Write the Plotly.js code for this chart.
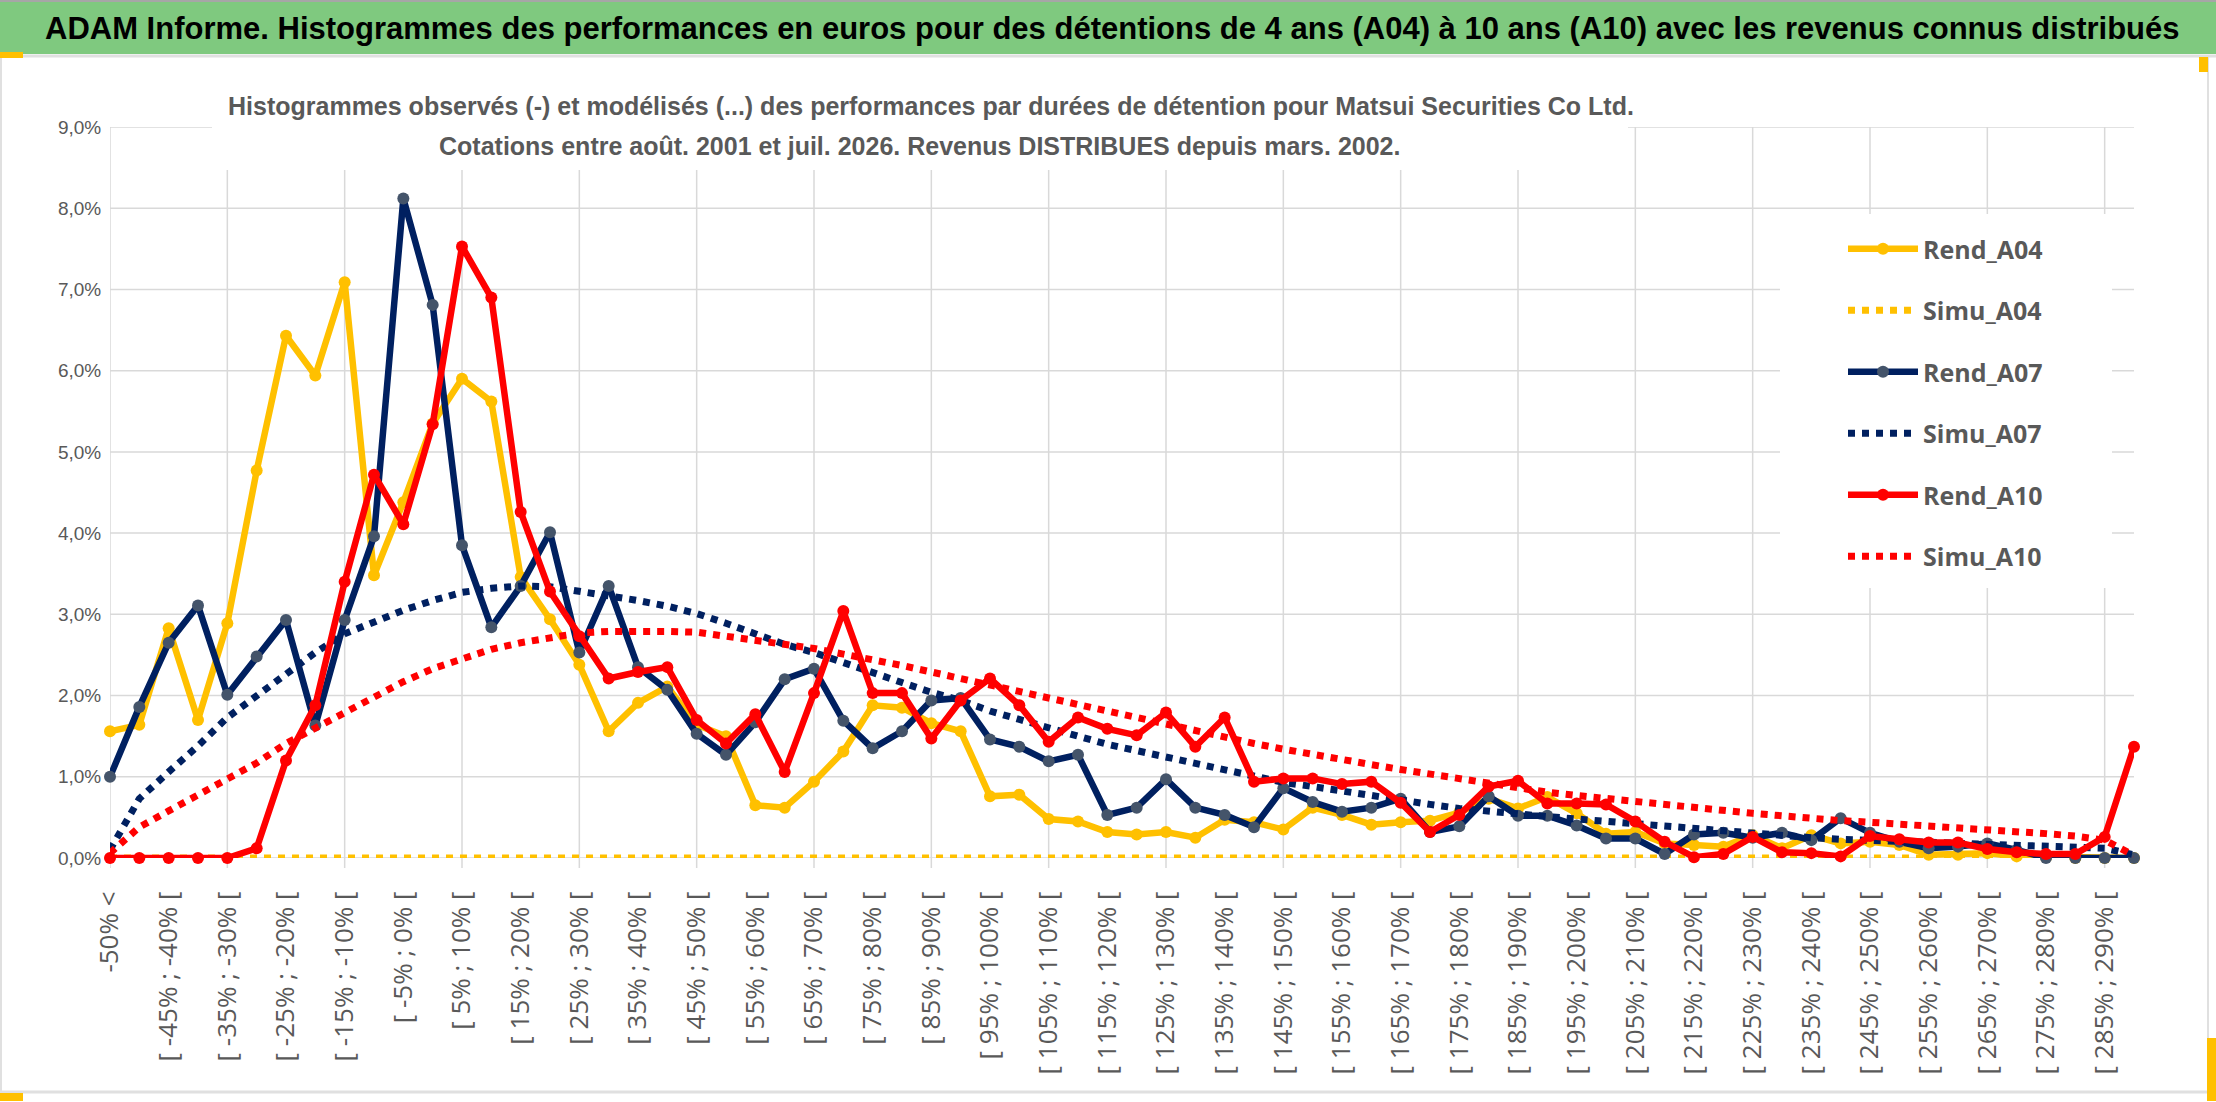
<!DOCTYPE html>
<html><head><meta charset="utf-8">
<script src="https://cdn.plot.ly/plotly-3.0.1.min.js"></script>
<style>html,body{margin:0;padding:0;background:#fff;overflow:hidden}#chart{width:2216px;height:1102px;}</style>
</head><body><div id="chart"></div>
<script>
const categories = [
"-50% <","[ -50% ; -45% [","[ -45% ; -40% [","[ -40% ; -35% [","[ -35% ; -30% [","[ -30% ; -25% [","[ -25% ; -20% [","[ -20% ; -15% [","[ -15% ; -10% [","[ -10% ; -5% [",
"[ -5% ; 0% [","[ 0% ; 5% [","[ 5% ; 10% [","[ 10% ; 15% [","[ 15% ; 20% [","[ 20% ; 25% [","[ 25% ; 30% [","[ 30% ; 35% [","[ 35% ; 40% [","[ 40% ; 45% [",
"[ 45% ; 50% [","[ 50% ; 55% [","[ 55% ; 60% [","[ 60% ; 65% [","[ 65% ; 70% [","[ 70% ; 75% [","[ 75% ; 80% [","[ 80% ; 85% [","[ 85% ; 90% [","[ 90% ; 95% [",
"[ 95% ; 100% [","[ 100% ; 105% [","[ 105% ; 110% [","[ 110% ; 115% [","[ 115% ; 120% [","[ 120% ; 125% [","[ 125% ; 130% [","[ 130% ; 135% [","[ 135% ; 140% [","[ 140% ; 145% [",
"[ 145% ; 150% [","[ 150% ; 155% [","[ 155% ; 160% [","[ 160% ; 165% [","[ 165% ; 170% [","[ 170% ; 175% [","[ 175% ; 180% [","[ 180% ; 185% [","[ 185% ; 190% [","[ 190% ; 195% [",
"[ 195% ; 200% [","[ 200% ; 205% [","[ 205% ; 210% [","[ 210% ; 215% [","[ 215% ; 220% [","[ 220% ; 225% [","[ 225% ; 230% [","[ 230% ; 235% [","[ 235% ; 240% [","[ 240% ; 245% [",
"[ 245% ; 250% [","[ 250% ; 255% [","[ 255% ; 260% [","[ 260% ; 265% [","[ 265% ; 270% [","[ 270% ; 275% [","[ 275% ; 280% [","[ 280% ; 285% [","[ 285% ; 290% [","> 290%"
];
// values in %
const rendA04 = [1.56,1.64,2.83,1.70,2.89,4.77,6.43,5.94,7.09,3.48,
4.38,5.35,5.90,5.62,3.46,2.94,2.38,1.56,1.91,2.11,
1.64,1.50,0.65,0.62,0.94,1.31,1.88,1.85,1.66,1.56,
0.76,0.78,0.48,0.45,0.32,0.29,0.32,0.25,0.47,0.44,
0.35,0.62,0.53,0.41,0.44,0.46,0.56,0.73,0.61,0.75,
0.55,0.30,0.32,0.18,0.16,0.14,0.28,0.12,0.28,0.18,
0.20,0.16,0.04,0.04,0.06,0.02,0.01,0,0,0];
const simuA04 = [0,0,0,0,0,0,0,0,0,0, 0,0,0,0,0,0,0,0,0,0, 0,0,0,0,0,0,0,0,0,0, 0,0,0,0,0,0,0,0,0,0,
0,0,0,0,0,0,0,0,0,0, 0,0,0,0,0,0,0,0,0,0, 0,0,0,0,0,0,0,0,0,0];
const rendA07 = [1.00,1.86,2.65,3.11,2.01,2.48,2.93,1.63,2.93,3.96,
8.12,6.81,3.85,2.84,3.35,4.01,2.53,3.35,2.35,2.07,
1.53,1.27,1.67,2.20,2.33,1.69,1.35,1.56,1.94,1.97,
1.46,1.37,1.19,1.27,0.53,0.62,0.97,0.62,0.53,0.38,
0.86,0.69,0.57,0.62,0.73,0.32,0.39,0.76,0.52,0.52,
0.40,0.24,0.24,0.05,0.29,0.31,0.25,0.31,0.22,0.49,
0.31,0.20,0.12,0.14,0.18,0.10,0,0,0,0];
const simuA07 = [0.10,0.73,1.06,1.38,1.73,2.00,2.26,2.53,2.76,2.91,
3.05,3.17,3.27,3.32,3.35,3.34,3.29,3.24,3.17,3.10,
3.01,2.89,2.76,2.63,2.53,2.40,2.28,2.16,2.04,1.94,
1.81,1.70,1.60,1.50,1.40,1.32,1.23,1.16,1.09,1.00,
0.93,0.88,0.82,0.77,0.71,0.66,0.61,0.57,0.54,0.51,
0.48,0.45,0.42,0.38,0.35,0.32,0.30,0.27,0.25,0.23,
0.22,0.21,0.20,0.19,0.18,0.17,0.16,0.15,0.12,0.04];
const rendA10 = [0,0,0,0,0,0.12,1.20,1.88,3.40,4.72,
4.11,5.34,7.53,6.90,4.26,3.28,2.73,2.21,2.29,2.35,
1.70,1.41,1.77,1.06,2.03,3.04,2.03,2.03,1.47,1.94,
2.21,1.88,1.43,1.73,1.59,1.51,1.79,1.37,1.73,0.94,
0.98,0.98,0.91,0.94,0.68,0.32,0.53,0.88,0.95,0.67,
0.67,0.66,0.45,0.20,0.01,0.05,0.26,0.07,0.06,0.02,
0.27,0.23,0.19,0.19,0.11,0.07,0.05,0.05,0.26,1.37];
const simuA10 = [0.06,0.38,0.58,0.78,0.98,1.17,1.41,1.60,1.79,2.00,
2.17,2.33,2.45,2.57,2.65,2.72,2.77,2.79,2.80,2.79,
2.78,2.73,2.70,2.65,2.58,2.51,2.45,2.37,2.29,2.21,
2.13,2.04,1.96,1.88,1.79,1.72,1.63,1.55,1.47,1.41,
1.34,1.27,1.22,1.15,1.09,1.03,0.98,0.93,0.85,0.81,
0.77,0.73,0.70,0.66,0.61,0.58,0.55,0.52,0.48,0.46,
0.44,0.42,0.39,0.36,0.34,0.32,0.30,0.27,0.22,0.03];
const yTickVals = [0,1,2,3,4,5,6,7,8,9];
const yTickLabels = ["0,0%","1,0%","2,0%","3,0%","4,0%","5,0%","6,0%","7,0%","8,0%","9,0%"];
const xTickLabels = categories.filter((c,i)=>i%2===0);
const xGridCats = categories.filter((c,i)=>i%4===0);
const seriesNames = ["Rend_A04","Simu_A04","Rend_A07","Simu_A07","Rend_A10","Simu_A10"];
const mainTitle = "ADAM Informe. Histogrammes des performances en euros pour des détentions de 4 ans (A04) à 10 ans (A10) avec les revenus connus distribués";
const subTitle1 = "Histogrammes observés (-) et modélisés (...) des performances par durées de détention pour Matsui Securities Co Ltd.";
const subTitle2 = "Cotations entre août. 2001 et juil. 2026. Revenus DISTRIBUES depuis mars. 2002.";

const W=2216, H=1102;
const M={l:110, r:82, t:127, b:244};
const PW=W-M.l-M.r, PH=H-M.t-M.b;
const px = x => (x-M.l)/PW;
const py = y => (H-M.b-y)/PH;

const YEL='#FFC000', NAVY='#002060', SLATE='#44546A', RED='#FF0000', GRID='#D9D9D9', TXT='#595959';

function rend(name, y, color, mcolor){
  return {type:'scatter', mode:'lines+markers', name:name, x:categories, y:y,
    line:{color:color, width:6.5}, marker:{color:mcolor, size:12, line:{width:0}},
    cliponaxis:false, legendgroup:name, hoverinfo:'skip'};
}
function simu(name, y, color){
  return {type:'scatter', mode:'lines', name:name, x:categories, y:y,
    line:{color:color, width:7, dash:'7px,7px'},
    cliponaxis:false, legendgroup:name, hoverinfo:'skip'};
}
const data = [
  rend(seriesNames[0], rendA04, YEL, YEL),
  simu(seriesNames[1], simuA04, YEL),
  rend(seriesNames[2], rendA07, NAVY, SLATE),
  simu(seriesNames[3], simuA07, NAVY),
  rend(seriesNames[4], rendA10, RED, RED),
  simu(seriesNames[5], simuA10, RED)
];

const shapes = [];
// horizontal gridlines
yTickVals.forEach(v=>shapes.push({type:'line', xref:'paper', yref:'y', x0:0, x1:1, y0:v, y1:v, line:{color:GRID, width:1.5}, layer:'below'}));
// vertical gridlines every 4 categories
xGridCats.forEach(c=>shapes.push({type:'line', xref:'x', yref:'paper', x0:c, x1:c, y0:py(868), y1:1, line:{color:GRID, width:1.5}, layer:'below'}));
// white boxes behind title and legend
shapes.push({type:'rect', xref:'paper', yref:'paper', x0:px(212), x1:px(1628), y0:py(170), y1:py(118), fillcolor:'#FFFFFF', line:{width:0}, layer:'below'});
shapes.push({type:'rect', xref:'paper', yref:'paper', x0:px(1780), x1:px(2112), y0:py(588), y1:py(214), fillcolor:'#FFFFFF', line:{width:0}, layer:'below'});
// green header band
shapes.push({type:'rect', xref:'paper', yref:'paper', x0:px(0), x1:px(2216), y0:py(54), y1:py(2), fillcolor:'#7FC97F', line:{width:0}, layer:'below'});
// frame lines
shapes.push({type:'line', xref:'paper', yref:'paper', x0:px(0), x1:px(2216), y0:py(1), y1:py(1), line:{color:'#A6A6A6', width:2}, layer:'below'});
shapes.push({type:'line', xref:'paper', yref:'paper', x0:px(0), x1:px(2216), y0:py(56), y1:py(56), line:{color:'#E0E0E0', width:3}, layer:'below'});
shapes.push({type:'line', xref:'paper', yref:'paper', x0:px(0), x1:px(2216), y0:py(1092), y1:py(1092), line:{color:'#E0E0E0', width:3}, layer:'below'});
shapes.push({type:'line', xref:'paper', yref:'paper', x0:px(1), x1:px(1), y0:py(56), y1:py(1100), line:{color:'#E0E0E0', width:2}, layer:'below'});
shapes.push({type:'line', xref:'paper', yref:'paper', x0:px(2208), x1:px(2208), y0:py(56), y1:py(1100), line:{color:'#E0E0E0', width:2}, layer:'below'});
// small yellow handles
shapes.push({type:'rect', xref:'paper', yref:'paper', x0:px(0), x1:px(23), y0:py(58), y1:py(52), fillcolor:YEL, line:{width:0}, layer:'below'});
shapes.push({type:'rect', xref:'paper', yref:'paper', x0:px(0), x1:px(23), y0:py(1101), y1:py(1093), fillcolor:YEL, line:{width:0}, layer:'below'});
shapes.push({type:'rect', xref:'paper', yref:'paper', x0:px(2207), x1:px(2216), y0:py(1101), y1:py(1038), fillcolor:YEL, line:{width:0}, layer:'below'});
shapes.push({type:'rect', xref:'paper', yref:'paper', x0:px(2199), x1:px(2208), y0:py(72), y1:py(57), fillcolor:YEL, line:{width:0}, layer:'below'});

const annotations = [
  {text:mainTitle, xref:'paper', yref:'paper', x:px(1112), y:py(28), xanchor:'center', yanchor:'middle', showarrow:false,
   font:{family:'Liberation Sans, Arial, sans-serif', size:31, color:'#000000', weight:'bold'}},
  {text:subTitle1, xref:'paper', yref:'paper', x:px(931), y:py(106), xanchor:'center', yanchor:'middle', showarrow:false,
   font:{family:'Liberation Sans, Arial, sans-serif', size:25, color:TXT, weight:'bold'}},
  {text:subTitle2, xref:'paper', yref:'paper', x:px(919), y:py(146), xanchor:'center', yanchor:'middle', showarrow:false,
   font:{family:'Liberation Sans, Arial, sans-serif', size:25, color:TXT, weight:'bold'}}
];

const layout = {
  width:W, height:H, margin:M, paper_bgcolor:'#FFFFFF', plot_bgcolor:'rgba(0,0,0,0)',
  showlegend:true,
  xaxis:{type:'category', categoryorder:'array', categoryarray:categories, range:[0,69], autorange:false,
    showgrid:false, zeroline:false, showline:false, tickmode:'array', tickvals:xTickLabels, ticktext:xTickLabels,
    tickangle:-90, tickfont:{family:'Open Sans, sans-serif', size:26, color:TXT},
    ticks:'outside', ticklen:22, tickcolor:'rgba(0,0,0,0)'},
  yaxis:{range:[0,9], autorange:false, showgrid:false, zeroline:false, showline:false,
    tickmode:'array', tickvals:yTickVals, ticktext:yTickLabels,
    tickfont:{family:'Liberation Sans, Arial, sans-serif', size:19, color:TXT},
    ticks:'outside', ticklen:4, tickcolor:'rgba(0,0,0,0)'},
  legend:{x:px(1843), y:py(226), xanchor:'left', yanchor:'top', bgcolor:'rgba(0,0,0,0)',
    font:{family:'Open Sans, sans-serif', size:25, color:TXT, weight:'bold'},
    itemwidth:70, traceorder:'grouped', tracegroupgap:26},
  shapes:shapes, annotations:annotations
};
Plotly.newPlot('chart', data, layout, {staticPlot:true, displayModeBar:false});
</script></body></html>
